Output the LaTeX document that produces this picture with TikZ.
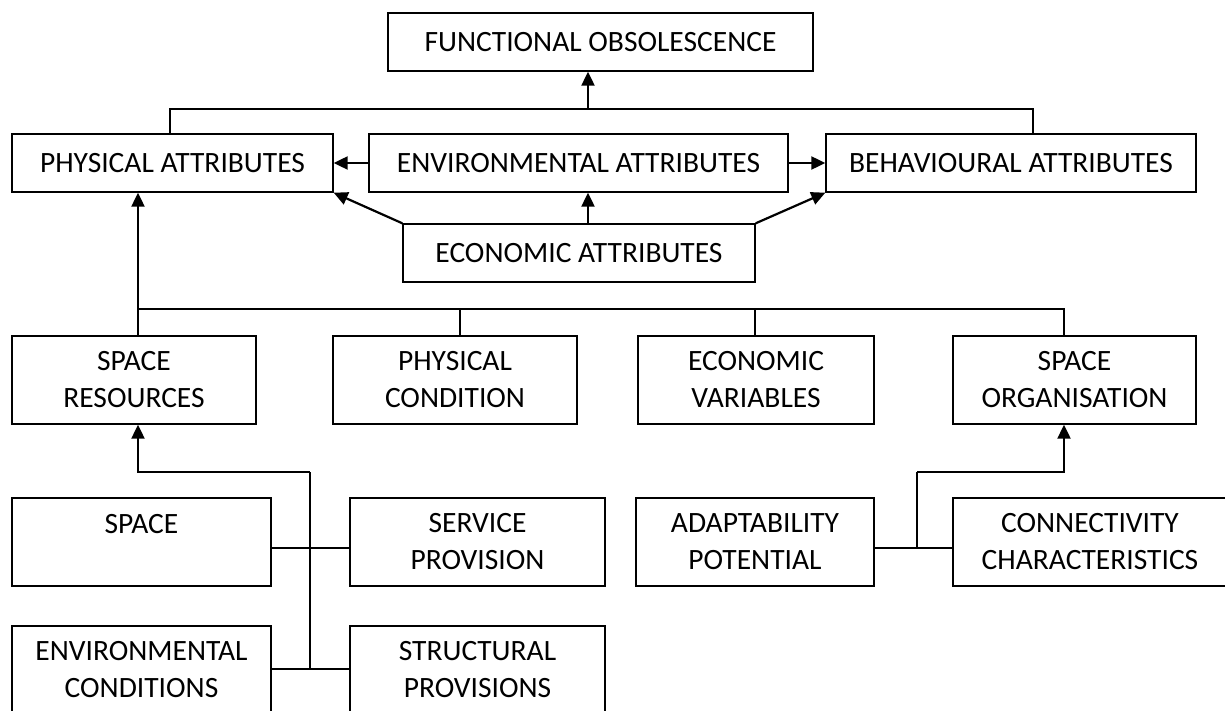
\documentclass[tikz,border=0pt]{standalone}
\usepackage{fontspec}
\setmainfont{Carlito}
\usetikzlibrary{arrows.meta}
\begin{document}
\begin{tikzpicture}[x=1pt,y=-1pt,
  box/.style={draw, line width=1.4pt, inner sep=0pt, align=center, font=\fontsize{29.5}{37}\selectfont},
  conn/.style={line width=1.4pt},
  arr/.style={line width=2.2pt, -{Triangle[length=14pt,width=13pt]}}]
\useasboundingbox (0,0) rectangle (1225,711);
\clip (0,0) rectangle (1225,711);
\newcommand\mybox[6]{\node[box, minimum width={#4-#2}, minimum height={#5-#3}] (#1) at ({(#2+#4)/2},{(#3+#5)/2}) {#6};}
% top level
\mybox{fo}{388}{13}{813}{71}{FUNCTIONAL OBSOLESCENCE}
\mybox{phys}{12}{134}{333}{192}{PHYSICAL ATTRIBUTES}
\mybox{env}{369}{134}{788}{192}{ENVIRONMENTAL ATTRIBUTES}
\mybox{beh}{826}{134}{1196}{192}{BEHAVIOURAL ATTRIBUTES}
\mybox{eco}{403}{224}{755}{282}{ECONOMIC ATTRIBUTES}
% second level
\mybox{sr}{12}{336}{256}{424}{SPACE\\RESOURCES}
\mybox{pc}{333}{336}{577}{424}{PHYSICAL\\CONDITION}
\mybox{ev}{638}{336}{874}{424}{ECONOMIC\\VARIABLES}
\mybox{so}{953}{336}{1196}{424}{SPACE\\ORGANISATION}
% third level
\mybox{sp}{12}{498}{271}{586}{SPACE\\\mbox{}}
\mybox{serv}{350}{498}{605}{586}{SERVICE\\PROVISION}
\mybox{ec}{12}{626}{271}{714}{ENVIRONMENTAL\\CONDITIONS}
\mybox{stp}{350}{626}{605}{714}{STRUCTURAL\\PROVISIONS}
\mybox{ap}{636}{498}{874}{586}{ADAPTABILITY\\POTENTIAL}
\mybox{cc}{953}{498}{1227}{586}{CONNECTIVITY\\CHARACTERISTICS}
% junction coordinates
\coordinate (tl) at (170,109);
\coordinate (tb) at (588,109);
\coordinate (tr) at (1033,109);
\coordinate (b1) at (138,309);
\coordinate (b2) at (460,309);
\coordinate (b3) at (755,309);
\coordinate (b4) at (1064,309);
\coordinate (h1) at (310,548);
\coordinate (h2) at (310,669);
\coordinate (v1) at (310,472);
\coordinate (a1) at (917,548);
\coordinate (a2) at (917,472);
% top connectors
\draw[conn] (tl |- phys.north) -- (tl) -- (tr) -- (tr |- beh.north);
\draw[arr] (tb) -- (tb |- fo.south);
\draw[arr] (env.west) -- (phys.east);
\draw[arr] (env.east) -- (beh.west);
\draw[arr] (tb |- eco.north) -- (tb |- env.south);
\draw[arr] (eco.north west) -- (phys.south east);
\draw[arr] (eco.north east) -- (beh.south west);
% middle bus
\draw[arr] (b1 |- sr.north) -- (b1 |- phys.south);
\draw[conn] (b1) -- (b4) -- (b4 |- so.north);
\draw[conn] (b2) -- (b2 |- pc.north);
\draw[conn] (b3) -- (b3 |- ev.north);
% bottom left
\draw[conn] (sp.east |- h1) -- (serv.west |- h1);
\draw[conn] (ec.east |- h2) -- (stp.west |- h2);
\draw[conn] (h2) -- (v1);
\draw[arr] (v1) -- (b1 |- v1) -- (b1 |- sr.south);
% bottom right
\draw[conn] (ap.east |- a1) -- (cc.west |- a1);
\draw[conn] (a1) -- (a2);
\draw[arr] (a2) -- (b4 |- a2) -- (b4 |- so.south);
\end{tikzpicture}
\end{document}
